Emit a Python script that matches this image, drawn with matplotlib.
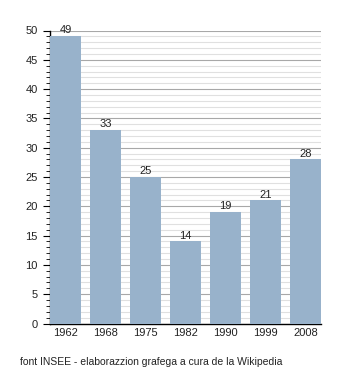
import matplotlib.pyplot as plt
import numpy as np
from matplotlib.ticker import MultipleLocator

plt.rcParams['font.family'] = ['Liberation Sans', 'DejaVu Sans']

anni = ['1962', '1968', '1975', '1982', '1990', '1999', '2008']
valori = [49, 33, 25, 14, 19, 21, 28]

fig = plt.figure(figsize=(3.5, 3.73), dpi=100)
ax = fig.add_axes([50/350, 1 - 323.5/373, 271/350, (323.5 - 30.5)/373])

x = np.arange(len(anni))
larg = 0.775
ax.bar(x, valori, width=larg, align='edge', color='#98b2cb', zorder=3)

# etichette dei valori sopra le barre
for xi, v in zip(x, valori):
    ax.text(xi + larg/2, v + 0.15, str(v), ha='center', va='bottom', fontsize=8, color='#222222')

ax.set_xlim(0, len(anni) - 1 + larg)
ax.set_ylim(0, 50)
ax.set_xticks(x + larg/2)
ax.set_xticklabels(anni, fontsize=8, color='#222222')
ax.tick_params(axis='x', length=0, pad=3)

ax.yaxis.set_major_locator(MultipleLocator(5))
ax.yaxis.set_minor_locator(MultipleLocator(1))
ax.tick_params(axis='y', which='major', length=5, direction='out', labelsize=8, pad=4, labelcolor='#222222')
ax.tick_params(axis='y', which='minor', length=3, direction='out')
ax.grid(axis='y', which='major', color='#a8a8a8', linewidth=0.8, zorder=0)
ax.grid(axis='y', which='minor', color='#e0e0e0', linewidth=0.8, zorder=0)

for s in ['top', 'right']:
    ax.spines[s].set_visible(False)
ax.spines['left'].set_linewidth(1)
ax.spines['bottom'].set_linewidth(1)

fig.text(20/350, 1 - 362/373, 'font INSEE - elaborazzion grafega a cura de la Wikipedia',
         fontsize=7.5, va='center', ha='left', color='#222222')

fig.savefig('out.png', dpi=100)
